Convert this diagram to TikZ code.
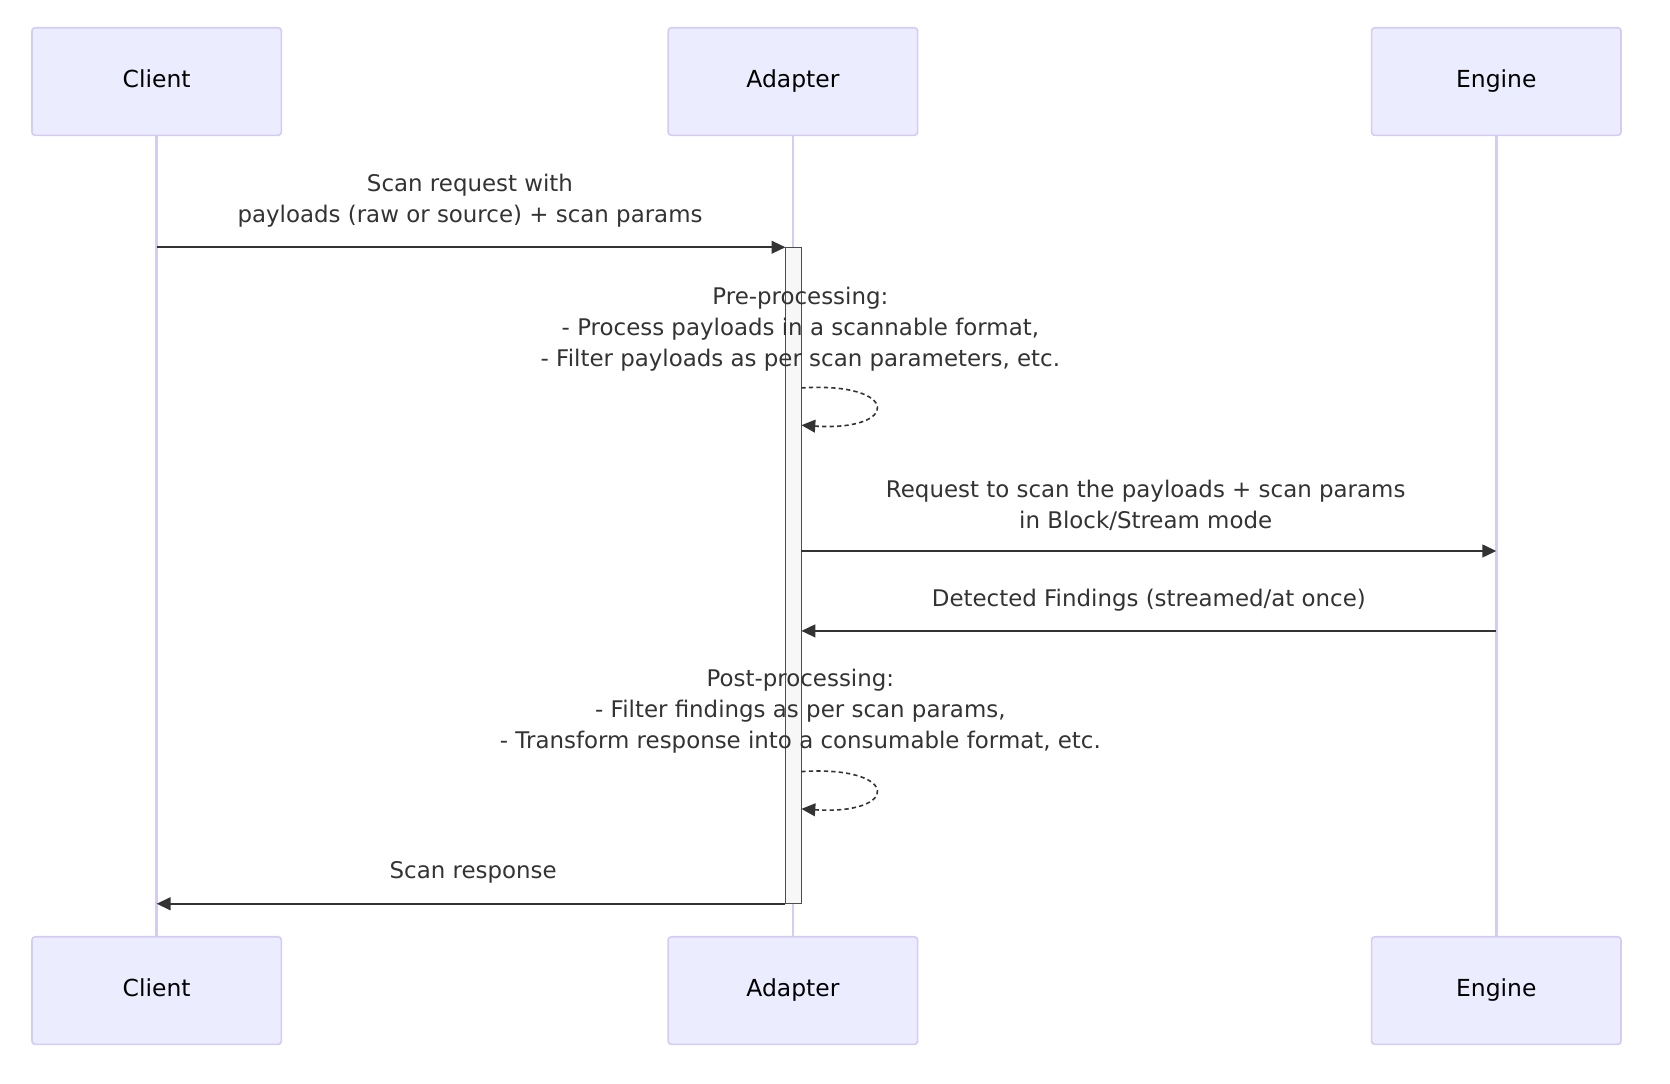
\documentclass[tikz,border=0pt]{standalone}
\usepackage{fontspec}
\setmainfont{DejaVu Sans}
\usetikzlibrary{arrows.meta}
\definecolor{actfill}{HTML}{ECECFF}
\definecolor{actdraw}{HTML}{D4CCF2}
\definecolor{life}{HTML}{D4CCF2}
\definecolor{txt}{HTML}{333333}
\begin{document}
\begin{tikzpicture}[x=1pt,y=-1pt,
  actor/.style={draw=actdraw,line width=1.5pt,fill=actfill,rounded corners=3pt,minimum width=234pt,minimum height=101pt,inner sep=0pt,text height=15pt,text depth=4pt,font=\fontsize{22}{26}\selectfont},
  msg/.style={draw=txt,line width=1.5pt,-{Triangle[length=13pt,width=12pt]}},
  lbl/.style={font=\fontsize{21.5}{29}\selectfont,text=txt,align=center,inner sep=0pt},
  lifeline/.style={draw=life,line width=2.5pt}]
\useasboundingbox (0,0) rectangle (1567,1017);
\draw[lifeline] (147,127) -- (147,879);
\draw[lifeline] (744,127) -- (744,879);
\draw[lifeline] (1404,127) -- (1404,879);
\node[actor] (c1) at (147,76.5) {Client};
\node[actor] (a1) at (744,76.5) {Adapter};
\node[actor] (e1) at (1404,76.5) {Engine};
\node[actor] (c2) at (147,929.5) {Client};
\node[actor] (a2) at (744,929.5) {Adapter};
\node[actor] (e2) at (1404,929.5) {Engine};
\draw[fill=black!3,draw=black!70,line width=0.8pt] (737,232) rectangle (752,848);
\coordinate (cl1) at (147,232); \coordinate (ad1) at (737,232);
\draw[msg] (cl1) -- (ad1);
\node[lbl] at (441,188) {Scan request with\\payloads (raw or source) + scan params};
\node[lbl] at (751,309) {Pre-processing:\\- Process payloads in a scannable format,\\- Filter payloads as per scan parameters, etc.};
\coordinate (l1a) at (752,364); \coordinate (l1b) at (752,399);
\draw[msg,dash pattern=on 4pt off 3pt] (l1a) .. controls (845,358) and (845,405) .. (l1b);
\coordinate (ad2) at (752,517); \coordinate (en2) at (1404,517);
\draw[msg] (ad2) -- (en2);
\node[lbl] at (1075,474) {Request to scan the payloads + scan params\\in Block/Stream mode};
\coordinate (en3) at (1404,592); \coordinate (ad3) at (752,592);
\draw[msg] (en3) -- (ad3);
\node[lbl] at (1078,563) {Detected Findings (streamed/at once)};
\node[lbl] at (751,667) {Post-processing:\\- Filter findings as per scan params,\\- Transform response into a consumable format, etc.};
\coordinate (l2a) at (752,724); \coordinate (l2b) at (752,759);
\draw[msg,dash pattern=on 4pt off 3pt] (l2a) .. controls (845,718) and (845,765) .. (l2b);
\coordinate (ad4) at (737,848); \coordinate (cl4) at (147,848);
\draw[msg] (ad4) -- (cl4);
\node[lbl] at (444,819) {Scan response};
\end{tikzpicture}
\end{document}
